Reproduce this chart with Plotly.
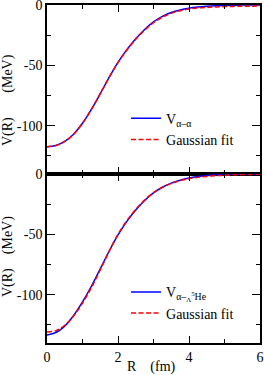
import plotly.graph_objects as go

# ---- data ----
R = [0.0, 0.25, 0.5, 0.75, 1.0, 1.25, 1.5, 1.75, 2.0, 2.25, 2.5, 2.75, 3.0,
     3.25, 3.5, 3.75, 4.0, 4.25, 4.5, 4.75, 5.0, 5.25, 5.5, 5.75, 6.0]

V_aa = [-117.5, -116.4, -113.0, -107.0, -98.0, -86.5, -73.5, -60.0, -47.5, -37.0,
        -28.0, -20.3, -14.0, -9.4, -6.2, -4.1, -2.7, -1.75, -1.1, -0.65,
        -0.37, -0.2, -0.1, -0.04, 0.0]
fit_aa = [-117.5, -116.4, -113.0, -107.0, -98.0, -86.5, -73.5, -60.0, -47.6, -37.3,
          -28.4, -20.9, -14.7, -10.1, -6.9, -4.8, -3.4, -2.5, -2.0, -1.6,
          -1.3, -1.15, -1.05, -0.95, -0.9]

V_aHe = [-133.4, -131.3, -126.0, -117.2, -106.0, -93.0, -78.5, -64.0, -50.5, -39.2,
         -29.8, -21.9, -15.7, -11.0, -7.6, -5.1, -3.3, -2.1, -1.3, -0.8,
         -0.45, -0.25, -0.12, -0.05, 0.0]
fit_aHe = [-130.8, -129.8, -125.3, -117.6, -107.0, -94.2, -79.5, -64.0, -50.0, -38.6,
           -29.3, -21.6, -15.5, -11.0, -7.8, -5.5, -3.9, -2.8, -2.0, -1.4,
           -1.0, -0.7, -0.5, -0.35, -0.25]

x_ticks = [0, 2, 4, 6]
x_ticktext = ["0", "2", "4", "6"]
y_ticks = [-100, -50, 0]
y_ticktext = ["-100", "-50", "0"]

label_top = "V<sub>α–α</sub>"
label_bot = "V<sub>α–<sub>Λ</sub><sup>5</sup>He</sub>"
label_fit = "Gaussian fit"

NB = "\u00a0"
ytitle_top = "V(R)" + NB * 7 + "(MeV)"
ytitle_bot = "V(R)" + NB * 4 + "(MeV)"
xtitle = "R" + NB * 4 + "(fm)"

FONT = "Liberation Serif"
BLUE = "#0000ff"
RED = "#ff0000"

fig = go.Figure()
fig.add_trace(go.Scatter(x=R, y=V_aa, mode="lines", name=label_top,
                         line=dict(color=BLUE, width=1.5, shape="spline"),
                         xaxis="x", yaxis="y", legend="legend"))
fig.add_trace(go.Scatter(x=R, y=fit_aa, mode="lines", name=label_fit,
                         line=dict(color=RED, width=1.5, dash="5px,2.5px", shape="spline"),
                         xaxis="x", yaxis="y", legend="legend"))
fig.add_trace(go.Scatter(x=R, y=V_aHe, mode="lines", name=label_bot,
                         line=dict(color=BLUE, width=1.5, shape="spline"),
                         xaxis="x2", yaxis="y2", legend="legend2"))
fig.add_trace(go.Scatter(x=R, y=fit_aHe, mode="lines", name=label_fit,
                         line=dict(color=RED, width=1.5, dash="5px,2.5px", shape="spline"),
                         xaxis="x2", yaxis="y2", legend="legend2"))

common_x = dict(range=[0, 6], tickvals=x_ticks, ticktext=x_ticktext,
                ticks="inside", ticklen=7, tickwidth=1, tickcolor="black",
                minor=dict(dtick=1, tick0=0, ticks="inside", ticklen=4, tickcolor="black"),
                showline=True, linecolor="black", linewidth=1.5, mirror="ticks",
                showgrid=False, zeroline=False, ticklabeloverflow="allow",
                tickfont=dict(family=FONT, size=14, color="black"))
common_y = dict(range=[-140, 0], tickvals=y_ticks, ticktext=y_ticktext,
                ticks="inside", ticklen=8, tickwidth=1, tickcolor="black",
                minor=dict(dtick=25, tick0=0, ticks="inside", ticklen=4, tickcolor="black"),
                showline=True, linecolor="black", linewidth=1.5, mirror="ticks",
                showgrid=False, zeroline=False, ticklabeloverflow="allow",
                tickfont=dict(family=FONT, size=14, color="black"))

fig.update_layout(
    width=264, height=375, autosize=False,
    margin=dict(l=47, r=4, t=5, b=32, autoexpand=False),
    paper_bgcolor="white", plot_bgcolor="white",
    font=dict(family=FONT, size=14, color="black"),
    xaxis=dict(common_x, anchor="y", domain=[0, 1], showticklabels=False),
    yaxis=dict(common_y, anchor="x", domain=[0.5, 1]),
    xaxis2=dict(common_x, anchor="y2", domain=[0, 1], matches="x"),
    yaxis2=dict(common_y, anchor="x2", domain=[0, 0.5]),
    legend=dict(x=0.371, y=0.6325, xanchor="left", yanchor="middle",
                bgcolor="rgba(0,0,0,0)", font=dict(family=FONT, size=14),
                tracegroupgap=0, itemwidth=30),
    legend2=dict(x=0.371, y=0.119, xanchor="left", yanchor="middle",
                 bgcolor="rgba(0,0,0,0)", font=dict(family=FONT, size=14),
                 tracegroupgap=0, itemwidth=30),
    showlegend=True,
)

fig.add_annotation(text=ytitle_top, xref="paper", yref="paper",
                   x=(8 - 47) / 213, y=1 - (100 - 5) / 338, textangle=-90,
                   showarrow=False, xanchor="center", yanchor="middle",
                   font=dict(family=FONT, size=14))
fig.add_annotation(text=ytitle_bot, xref="paper", yref="paper",
                   x=(8 - 47) / 213, y=1 - (257 - 5) / 338, textangle=-90,
                   showarrow=False, xanchor="center", yanchor="middle",
                   font=dict(family=FONT, size=14))
fig.add_annotation(text=xtitle, xref="paper", yref="paper",
                   x=(151.5 - 47) / 213, y=-(367 - 343) / 338,
                   showarrow=False, xanchor="center", yanchor="middle",
                   font=dict(family=FONT, size=14))

fig.write_html("out.html",
               config={"displayModeBar": False},
               post_script="document.body.style.margin='0';document.body.style.padding='0';"
                           "document.documentElement.style.overflow='hidden';")
